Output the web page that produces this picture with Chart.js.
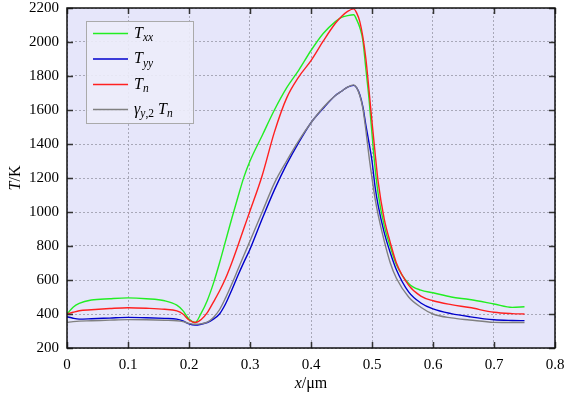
<!DOCTYPE html>
<html>
<head>
<meta charset="utf-8">
<script src="https://cdn.jsdelivr.net/npm/chart.js@4/dist/chart.umd.min.js"></script>
<style>
  html, body { margin: 0; padding: 0; background: #fff; }
  #wrap { width: 565px; height: 397px; position: relative; }
</style>
</head>
<body>
<div id="wrap"><canvas id="chart"></canvas></div>
<script>
// x positions in micrometres, shared by all four curves
const xPos = [0, 0.01, 0.02, 0.04, 0.07, 0.10, 0.13, 0.16, 0.18, 0.19, 0.20, 0.21, 0.22, 0.23, 0.24, 0.25,
  0.26, 0.27, 0.28, 0.29, 0.30, 0.32, 0.34, 0.36, 0.38, 0.40, 0.42, 0.44, 0.45, 0.46, 0.47, 0.475, 0.48,
  0.485, 0.49, 0.495, 0.50, 0.505, 0.51, 0.52, 0.53, 0.54, 0.56, 0.58, 0.60, 0.63, 0.66, 0.70, 0.73, 0.75];

const tXX = [400, 440, 462, 482, 490, 495, 490, 478, 452, 420, 370, 350, 405, 480, 580, 700,
  830, 960, 1085, 1205, 1300, 1450, 1600, 1730, 1835, 1950, 2050, 2120, 2145, 2155, 2160, 2130, 2085,
  2010, 1840, 1670, 1460, 1260, 1110, 920, 795, 690, 580, 540, 525, 500, 485, 459, 439, 443];

const tYY = [384, 375, 370, 372, 376, 380, 378, 374, 370, 360, 342, 335, 340, 350, 370, 400,
  460, 540, 625, 705, 781, 960, 1130, 1280, 1410, 1525, 1610, 1685, 1710, 1735, 1745, 1730, 1690,
  1620, 1510, 1410, 1300, 1150, 1040, 880, 760, 660, 530, 465, 430, 402, 384, 366, 362, 361];

const tN = [400, 410, 419, 425, 432, 437, 434, 428, 418, 400, 365, 350, 368, 408, 470, 535,
  610, 700, 800, 905, 1006, 1215, 1470, 1670, 1795, 1890, 2005, 2110, 2150, 2180, 2195, 2170, 2120,
  2030, 1900, 1720, 1530, 1350, 1180, 960, 820, 700, 570, 505, 478, 455, 438, 410, 402, 400];

const gammaTN = [351, 355, 358, 360, 364, 367, 366, 363, 360, 355, 345, 340, 342, 352, 380, 425,
  495, 575, 660, 745, 830, 1000, 1170, 1300, 1420, 1525, 1615, 1685, 1710, 1735, 1748, 1730, 1685,
  1610, 1480, 1330, 1200, 1080, 985, 830, 700, 610, 500, 440, 400, 377, 365, 351, 350, 350];

const xTicks = [0, 0.1, 0.2, 0.3, 0.4, 0.5, 0.6, 0.7, 0.8];
const xTickLabels = ['0', '0.1', '0.2', '0.3', '0.4', '0.5', '0.6', '0.7', '0.8'];
const yTicks = [200, 400, 600, 800, 1000, 1200, 1400, 1600, 1800, 2000, 2200];

const COLORS = ['#22ee22', '#0000cc', '#ff2020', '#808080'];
const SERIF = '"Liberation Serif", "DejaVu Serif", serif';

const toPoints = arr => arr.map((v, i) => ({ x: xPos[i], y: v }));

// legend labels as pieces: [text, italic, subscript]
const legendItems = [
  [['T', true, false], ['xx', true, true]],
  [['T', true, false], ['yy', true, true]],
  [['T', true, false], ['n', true, true]],
  [['γ', true, false], ['y', true, true], [',2', false, true], [' ', false, false], ['T', true, false], ['n', true, true]],
];

function drawPieces(ctx, pieces, x, y, size) {
  ctx.textBaseline = 'alphabetic';
  ctx.textAlign = 'left';
  for (const [t, it, sub] of pieces) {
    const fs = sub ? size * 0.72 : size;
    ctx.font = `${it ? 'italic ' : ''}${fs}px ${SERIF}`;
    ctx.fillText(t, x, sub ? y + size * 0.22 : y);
    x += ctx.measureText(t).width;
  }
  return x;
}

function measurePieces(ctx, pieces, size) {
  let w = 0;
  for (const [t, it, sub] of pieces) {
    const fs = sub ? size * 0.72 : size;
    ctx.font = `${it ? 'italic ' : ''}${fs}px ${SERIF}`;
    w += ctx.measureText(t).width;
  }
  return w;
}

const decor = {
  id: 'decor',
  beforeDraw(chart) {
    const { ctx, chartArea: a } = chart;
    ctx.save();
    ctx.fillStyle = '#e6e6fa';
    ctx.fillRect(a.left, a.top, a.right - a.left, a.bottom - a.top);
    ctx.restore();
  },
  afterDraw(chart) {
    const { ctx, chartArea: a, scales } = chart;
    ctx.save();

    // inward ticks on all four sides
    ctx.strokeStyle = '#333';
    ctx.lineWidth = 1.5;
    ctx.beginPath();
    xTicks.forEach(v => {
      const px = Math.round(scales.x.getPixelForValue(v)) + 0.5;
      ctx.moveTo(px, a.bottom); ctx.lineTo(px, a.bottom - 6);
      ctx.moveTo(px, a.top); ctx.lineTo(px, a.top + 6);
    });
    yTicks.forEach(v => {
      const py = Math.round(scales.y.getPixelForValue(v)) + 0.5;
      ctx.moveTo(a.left, py); ctx.lineTo(a.left + 6, py);
      ctx.moveTo(a.right, py); ctx.lineTo(a.right - 6, py);
    });
    ctx.stroke();

    // frame
    ctx.strokeStyle = '#111';
    ctx.lineWidth = 1.5;
    ctx.strokeRect(a.left, a.top, a.right - a.left, a.bottom - a.top);

    // legend
    const lx = 86, ly = 21, lw = 107, lh = 102;
    ctx.fillStyle = 'rgba(236,236,250,0.9)';
    ctx.fillRect(lx, ly, lw, lh);
    ctx.strokeStyle = '#aaa';
    ctx.lineWidth = 1;
    ctx.strokeRect(lx + 0.5, ly + 0.5, lw, lh);
    const rows = [33.5, 59, 84.5, 109.5];
    legendItems.forEach((pieces, i) => {
      ctx.strokeStyle = COLORS[i];
      ctx.lineWidth = 1.4;
      ctx.beginPath();
      ctx.moveTo(93, rows[i]); ctx.lineTo(128, rows[i]);
      ctx.stroke();
      ctx.fillStyle = '#000';
      drawPieces(ctx, pieces, 134, rows[i] + 4, 16);
    });

    // axis titles
    ctx.fillStyle = '#000';
    const xt = [['x', true, false], ['/μm', false, false]];
    const xw = measurePieces(ctx, xt, 16);
    drawPieces(ctx, xt, (a.left + a.right) / 2 - xw / 2, 388, 16);

    ctx.translate(20, (a.top + a.bottom) / 2);
    ctx.rotate(-Math.PI / 2);
    const yt = [['T', true, false], ['/K', false, false]];
    const yw = measurePieces(ctx, yt, 16);
    drawPieces(ctx, yt, -yw / 2, 0, 16);

    ctx.restore();
  }
};

const makeSet = (label, data, color, order) => ({
  label,
  data: toPoints(data),
  borderColor: color,
  backgroundColor: color,
  borderWidth: 1.4,
  pointRadius: 0,
  cubicInterpolationMode: 'monotone',
  fill: false,
  order,
});

new Chart(document.getElementById('chart'), {
  type: 'line',
  data: {
    datasets: [
      makeSet('Txx', tXX, COLORS[0], 2),
      makeSet('Tyy', tYY, COLORS[1], 3),
      makeSet('Tn', tN, COLORS[2], 1),
      makeSet('γy,2 Tn', gammaTN, COLORS[3], 0),
    ],
  },
  options: {
    responsive: true,
    maintainAspectRatio: false,
    animation: false,
    layout: { padding: { top: 8, right: 10, left: 0, bottom: 0 } },
    plugins: { legend: { display: false }, tooltip: { enabled: false } },
    scales: {
      x: {
        type: 'linear',
        min: 0,
        max: 0.8,
        afterBuildTicks: s => { s.ticks = xTicks.map(v => ({ value: v })); },
        afterFit: s => { s.height = 49; s.paddingLeft = 0; s.paddingRight = 0; },
        grid: { color: '#a8a8b8', lineWidth: 1, drawTicks: false },
        border: { display: false, dash: [2, 2] },
        ticks: {
          color: '#000',
          padding: 8,
          maxRotation: 0,
          font: { family: SERIF, size: 15 },
          callback: v => xTickLabels[xTicks.findIndex(t => Math.abs(t - v) < 1e-6)] ?? '',
        },
      },
      y: {
        type: 'linear',
        min: 200,
        max: 2200,
        afterBuildTicks: s => { s.ticks = yTicks.map(v => ({ value: v })); },
        afterFit: s => { s.width = 67; s.paddingTop = 0; s.paddingBottom = 0; },
        grid: { color: '#a8a8b8', lineWidth: 1, drawTicks: false },
        border: { display: false, dash: [2, 2] },
        ticks: {
          color: '#000',
          padding: 8,
          font: { family: SERIF, size: 15 },
          callback: v => String(v),
        },
      },
    },
  },
  plugins: [decor],
});
</script>
</body>
</html>
